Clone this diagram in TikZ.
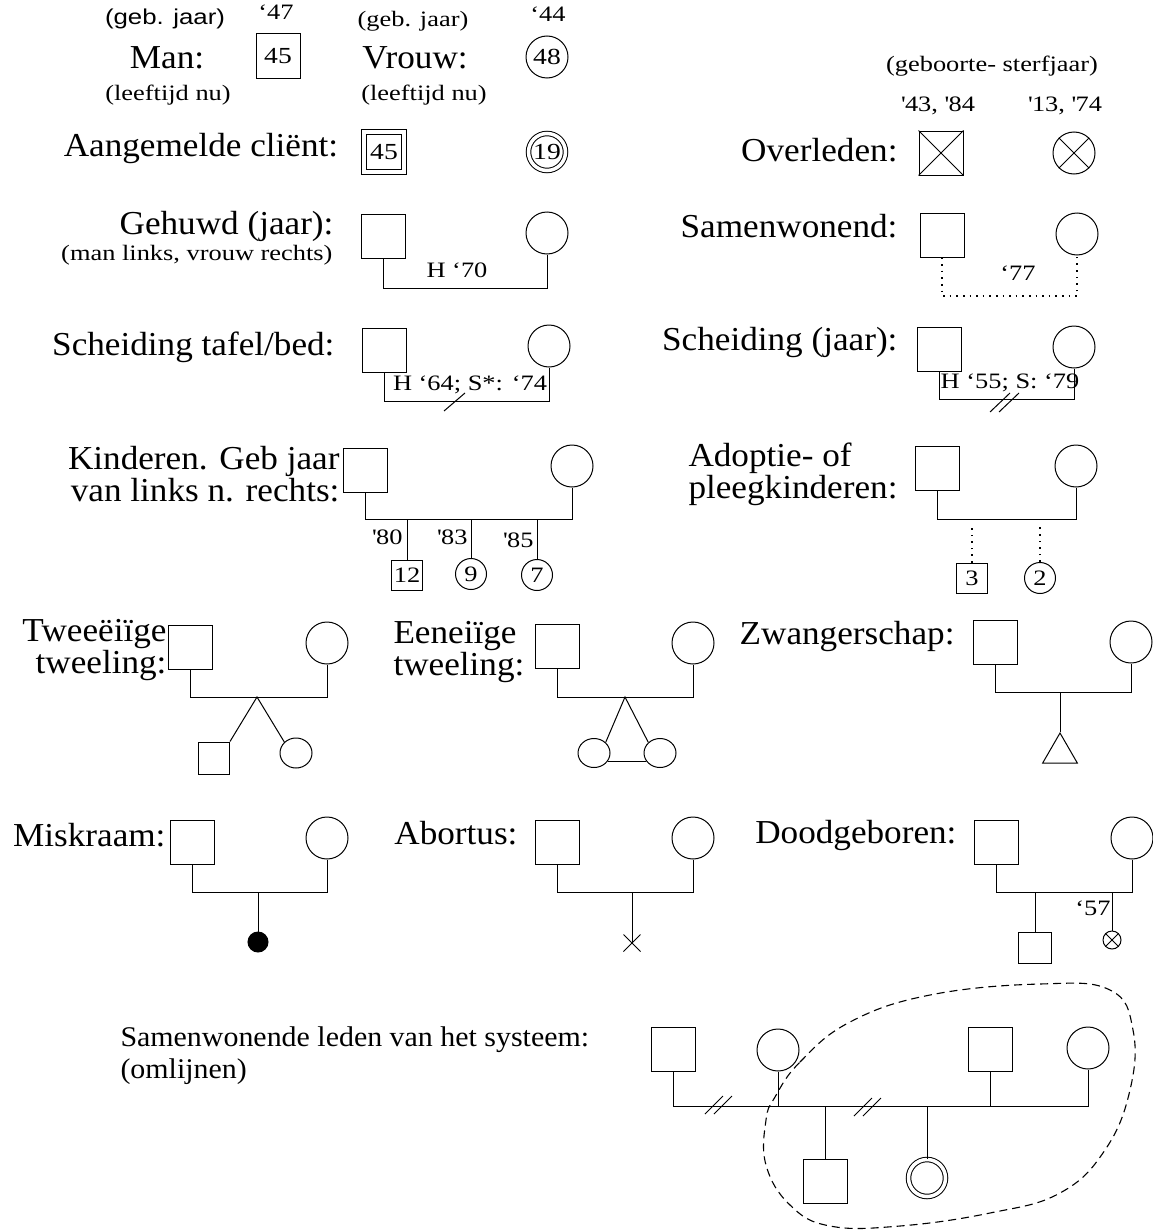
\documentclass[tikz,border=0pt]{standalone}
\usepackage{fontspec}
\setmainfont{Liberation Serif}
\newfontfamily\mainserif[FakeStretch=1.05]{Liberation Serif}
\newfontfamily\wideserif[FakeStretch=1.2]{Liberation Serif}
\newfontfamily\widesans[FakeStretch=1.2]{Liberation Sans}
\usetikzlibrary{shapes.geometric,shapes.misc}
\newcommand\bigfnt{\mainserif\fontsize{33.5}{32}\selectfont}
\newcommand\rowfnt{\mainserif\fontsize{28.5}{32}\selectfont}
\newcommand\smfnt{\wideserif\fontsize{22}{23}\selectfont}
\newcommand\numfnt{\wideserif\fontsize{23}{24}\selectfont}
\newcommand\sansfnt{\widesans\fontsize{21.5}{22}\selectfont}
\begin{document}
\begin{tikzpicture}[x=1pt,y=-1pt,line width=1pt,
  big/.style={font=\bigfnt,inner sep=0pt},
  sm/.style={font=\smfnt,inner sep=0pt},
  sans/.style={font=\sansfnt,inner sep=0pt},
  male/.style={draw,rectangle,minimum width=44pt,minimum height=44pt,inner sep=0pt,font=\numfnt},
  female/.style={draw,circle,minimum size=42pt,inner sep=0pt,font=\numfnt},
  kidm/.style={male,minimum width=31pt,minimum height=30pt,font=\smfnt},
  kidf/.style={female,minimum size=31pt,font=\smfnt},
  dotline/.style={line width=1.6pt,dash pattern=on 1.6pt off 5pt},
  encl/.style={line width=1.1pt,dash pattern=on 8pt off 5pt}]
\useasboundingbox (0,0) rectangle (1152,1231);

% ---- row A
\node[sans] (gebA) at (165,19) {(geb. jaar)};
\node[sm] (y47) at (276,12) {‘47};
\node[big] (manl) at (167,58) {Man:};
\node[male] (manb) at (278,56) {45};
\node[sm] (leefA) at (168,95) {(leeftijd nu)};
\node[sm] (gebB) at (413,21) {(geb. jaar)};
\node[sm] (y44) at (548,14) {‘44};
\node[big] (vrouwl) at (415,58) {Vrouw:};
\node[female] (vrouwc) at (547,57) {48};
\node[sm] (leefB) at (424,95) {(leeftijd nu)};

% ---- row B
\node[big] (aangl) at (201,148) {Aangemelde cliënt:};
\node[male,double,double distance=3.5pt,minimum width=40pt,minimum height=40pt] (clb) at (384,152) {45};
\node[female,double,double distance=3.5pt,minimum size=37pt] (clc) at (547,152) {19};

\node[sm] (gst) at (992,66) {(geboorte- sterfjaar)};
\node[sm] (y4384) at (938,106) {\textquotesingle 43, \textquotesingle 84};
\node[sm] (y1374) at (1065,106) {\textquotesingle 13, \textquotesingle 74};
\node[big,anchor=east] (overl) at (898,150) {Overleden:};
\node[male] (ovb) at (941,153) {};
\draw (ovb.north west) -- (ovb.south east) (ovb.north east) -- (ovb.south west);
\node[female] (ovc) at (1074,153) {};
\draw (ovc.45) -- (ovc.225) (ovc.135) -- (ovc.-45);

% ---- row C
\node[big,anchor=east] (gehl) at (334,226) {Gehuwd (jaar):};
\node[sm,anchor=east] (mlvr) at (333,255) {(man links, vrouw rechts)};
\node[male] (gm) at (383,236) {};
\node[female] (gf) at (547,233) {};
\coordinate (gy) at (0,288);
\draw (gm.south) -- (gm.south |- gy) -- (gf.south |- gy) -- (gf.south);
\node[sm] (gh) at (457,270) {H ‘70};

\node[big,anchor=east] (saml) at (898,226) {Samenwonend:};
\node[male] (swm) at (942,235) {};
\node[female] (swf) at (1077,234) {};
\coordinate (swy) at (0,296);
\draw[dotline] (swm.south) -- (swm.south |- swy) -- (swf.south |- swy) -- (swf.south);
\node[sm] (y77) at (1018,273) {‘77};

% ---- row D
\node[big,anchor=east] (stbl) at (335,347) {Scheiding tafel/bed:};
\node[male] (stm) at (384,350) {};
\node[female] (stf) at (549,346) {};
\coordinate (sty) at (0,401);
\draw (stm.south) -- (stm.south |- sty) -- (stf.south |- sty) -- (stf.south);
\node[sm] (sth) at (470,385) {H ‘64; S*: ‘74};
\coordinate (sla) at (444,411); \coordinate (slb) at (465,393);
\draw (sla) -- (slb);

\node[big,anchor=east] (sjl) at (898,342) {Scheiding (jaar):};
\node[male] (sjm) at (939,349) {};
\node[female] (sjf) at (1074,347) {};
\coordinate (sjy) at (0,399);
\draw (sjm.south) -- (sjm.south |- sjy) -- (sjf.south |- sjy) -- (sjf.south);
\node[sm] (sjh) at (1010,383) {H ‘55; S: ‘79};
\coordinate (s2a) at (990,412); \coordinate (s2b) at (1010,393);
\coordinate (s2c) at (999,412); \coordinate (s2d) at (1019,393);
\draw (s2a) -- (s2b) (s2c) -- (s2d);

% ---- row E
\node[big,anchor=east,align=right] (kindl) at (340,474) {Kinderen. Geb jaar\\van links n. rechts:};
\node[male] (km) at (365,470) {};
\node[female] (kf) at (572,466) {};
\coordinate (ky) at (0,519);
\draw (km.south) -- (km.south |- ky) -- (kf.south |- ky) -- (kf.south);
\node[kidm] (k1) at (407,575) {12};
\node[kidf] (k2) at (471,574) {9};
\node[kidf] (k3) at (537,575) {7};
\draw (k1.north) -- (k1.north |- ky) (k2.north) -- (k2.north |- ky) (k3.north) -- (k3.north |- ky);
\node[sm,anchor=east] (k1y) at (403,537) {\textquotesingle 80};
\node[sm,anchor=east] (k2y) at (468,537) {\textquotesingle 83};
\node[sm,anchor=east] (k3y) at (534,540) {\textquotesingle 85};

\node[big,anchor=west,align=left] (adl) at (688,474) {Adoptie- of\\pleegkinderen:};
\node[male] (adm) at (937,468) {};
\node[female] (adf) at (1076,466) {};
\coordinate (ady) at (0,519);
\draw (adm.south) -- (adm.south |- ady) -- (adf.south |- ady) -- (adf.south);
\node[kidm] (ad1) at (972,578) {3};
\node[kidf] (ad2) at (1040,578) {2};
\coordinate (adz) at (0,523);
\draw[dotline] (ad1.north) -- (ad1.north |- adz) (ad2.north) -- (ad2.north |- adz);

% ---- row F
\node[big,anchor=east,align=right] (tw1l) at (167,650) {Tweeëiïge\\tweeling:};
\node[male] (t1m) at (190,647) {};
\node[female] (t1f) at (327,643) {};
\coordinate (t1y) at (0,697);
\draw (t1m.south) -- (t1m.south |- t1y) -- (t1f.south |- t1y) -- (t1f.south);
\coordinate (t1a) at (257,697);
\node[kidm,minimum width=31pt,minimum height=32pt] (t1c1) at (214,758) {};
\node[draw,ellipse,minimum width=32pt,minimum height=30pt,inner sep=0pt] (t1c2) at (296,753) {};
\draw (t1c1.north east) -- (t1a) -- (t1c2.north west);

\node[big,anchor=west,align=left] (tw2l) at (393,652) {Eeneiïge\\tweeling:};
\node[male] (t2m) at (557,646) {};
\node[female] (t2f) at (693,643) {};
\coordinate (t2y) at (0,697);
\draw (t2m.south) -- (t2m.south |- t2y) -- (t2f.south |- t2y) -- (t2f.south);
\coordinate (t2a) at (625,697);
\node[draw,ellipse,minimum width=32pt,minimum height=29pt,inner sep=0pt] (t2c1) at (594,753) {};
\node[draw,ellipse,minimum width=32pt,minimum height=29pt,inner sep=0pt] (t2c2) at (660,753) {};
\draw (t2c1.north east) -- (t2a) -- (t2c2.north west);
\draw (t2c1.-30) -- (t2c2.-150);

\node[big,anchor=east] (zwl) at (955,636) {Zwangerschap:};
\node[male] (zm) at (995,642) {};
\node[female] (zf) at (1131,642) {};
\coordinate (zy) at (0,692);
\draw (zm.south) -- (zm.south |- zy) -- (zf.south |- zy) -- (zf.south);
\node[draw,regular polygon,regular polygon sides=3,minimum size=40pt,inner sep=0pt] (ztri) at (1060,753) {};
\draw (ztri.corner 1) -- (ztri.corner 1 |- zy);

% ---- row G
\node[big,anchor=east] (misl) at (166,835) {Miskraam:};
\node[male] (mm) at (192,842) {};
\node[female] (mf) at (327,838) {};
\coordinate (my) at (0,892);
\draw (mm.south) -- (mm.south |- my) -- (mf.south |- my) -- (mf.south);
\node[draw,circle,fill=black,minimum size=20pt,inner sep=0pt] (mdot) at (258,942) {};
\draw (mdot.north) -- (mdot.north |- my);

\node[big,anchor=east] (abl) at (518,833) {Abortus:};
\node[male] (am) at (557,842) {};
\node[female] (af) at (693,838) {};
\coordinate (ay) at (0,892);
\draw (am.south) -- (am.south |- ay) -- (af.south |- ay) -- (af.south);
\node[cross out,draw,minimum size=16pt,inner sep=0pt] (ax) at (632,943) {};
\draw (ax.center) -- (ax.center |- ay);

\node[big,anchor=east] (dgl) at (957,835) {Doodgeboren:};
\node[male] (dm) at (996,842) {};
\node[female] (df) at (1132,838) {};
\coordinate (dy) at (0,892);
\draw (dm.south) -- (dm.south |- dy) -- (df.south |- dy) -- (df.south);
\node[kidm,minimum width=33pt,minimum height=31pt] (dk1) at (1035,948) {};
\draw (dk1.north) -- (dk1.north |- dy);
\node[draw,circle,minimum size=18pt,inner sep=0pt] (dk2) at (1112,940) {};
\draw (dk2.45) -- (dk2.225) (dk2.135) -- (dk2.-45);
\draw (dk2.north) -- (dk2.north |- dy);
\node[sm] (y57) at (1093,908) {‘57};

% ---- row H
\node[anchor=west,align=left,font=\rowfnt,inner sep=0pt] (swl) at (120,1056) {Samenwonende leden van het systeem:\\(omlijnen)};
\node[male] (hb1) at (673,1049) {};
\node[female] (hc2) at (778,1050) {};
\node[male] (hb3) at (990,1049) {};
\node[female] (hc4) at (1088,1048) {};
\coordinate (hy) at (0,1106);
\draw (hb1.south) -- (hb1.south |- hy) -- (hc4.south |- hy) -- (hc4.south);
\draw (hc2.south) -- (hc2.south |- hy) (hb3.south) -- (hb3.south |- hy);
\node[male] (hk1) at (825,1181) {};
\node[female,double,double distance=3.5pt,minimum size=37pt] (hk2) at (927,1178) {};
\draw (hk1.north) -- (hk1.north |- hy) (hk2.north) -- (hk2.north |- hy);
\coordinate (ha1) at (705,1114); \coordinate (ha2) at (723,1096);
\coordinate (ha3) at (714,1114); \coordinate (ha4) at (732,1096);
\draw (ha1) -- (ha2) (ha3) -- (ha4);
\coordinate (hb1a) at (854,1116); \coordinate (hb1b) at (872,1098);
\coordinate (hb1c) at (863,1116); \coordinate (hb1d) at (881,1098);
\draw (hb1a) -- (hb1b) (hb1c) -- (hb1d);
\draw[encl] plot[smooth cycle,tension=0.7] coordinates {(775,1097) (800,1062) (850,1022) (930,995) (1040,984) (1110,990) (1133,1030) (1130,1090) (1105,1150) (1060,1193) (990,1213) (900,1226) (830,1226) (790,1205) (766,1165) (766,1120)};
\end{tikzpicture}
\end{document}
